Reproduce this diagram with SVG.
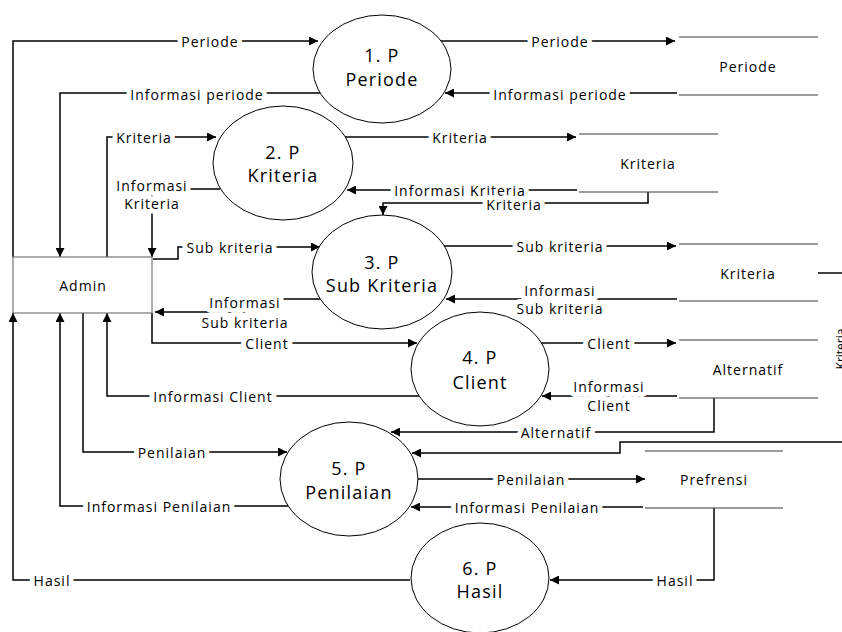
<svg xmlns="http://www.w3.org/2000/svg" width="842" height="632" viewBox="0 0 842 632">
<style>
.bg{fill:#fff}
.proc{fill:#fff;stroke:#000;stroke-width:1}
.pt{font-family:"Open Sans","Liberation Sans",sans-serif;font-size:18px;letter-spacing:1.2px;text-anchor:middle;dominant-baseline:central;fill:#000}
.st{stroke:#3a3a3a;stroke-width:1.2;fill:none}
.stt{font-family:"Open Sans","Liberation Sans",sans-serif;font-size:14px;letter-spacing:1px;text-anchor:middle;dominant-baseline:central;fill:#000}
.ent{fill:#fff;stroke:#777;stroke-width:1.2}
.c{fill:none;stroke:#000;stroke-width:1.5}
.ca{fill:none;stroke:#000;stroke-width:1.5;marker-end:url(#arr)}
.lb{font-family:"Open Sans","Liberation Sans",sans-serif;font-size:14px;letter-spacing:1px;text-anchor:middle;dominant-baseline:central;fill:#000;stroke:#fff;stroke-width:10px;stroke-linejoin:round;paint-order:stroke}
</style>
<defs>
<marker id="arr" viewBox="0 0 10 10" refX="10" refY="5" markerWidth="10" markerHeight="9" markerUnits="userSpaceOnUse" orient="auto">
<path d="M0,0 L10,5 L0,10 z" fill="#000"/>
</marker>
</defs>
<rect class="bg" x="0" y="0" width="842" height="632"/>

<g id="connectors">
<path class="ca" d="M13,257 V41 H318"/>
<path class="ca" d="M322,93 H60 V257"/>
<path class="ca" d="M107,257 V137 H216"/>
<path class="ca" d="M220,189 H152 V257"/>
<path class="ca" d="M648,192 V203 H383 V215"/>
<path class="ca" d="M345,137 H576"/>
<path class="ca" d="M577,190 H347"/>
<path class="ca" d="M441,41 H675"/>
<path class="ca" d="M677,93 H445"/>
<path class="ca" d="M153,259 H178 V247 H320"/>
<path class="ca" d="M320,299 H245 V312 H155"/>
<path class="ca" d="M152,313 V343 H417"/>
<path class="ca" d="M419,396 H107 V313"/>
<path class="ca" d="M541,343 H676"/>
<path class="ca" d="M677,396 H542"/>
<path class="ca" d="M444,246 H676"/>
<path class="ca" d="M677,299 H446"/>
<path class="ca" d="M714,398 V432 H391"/>
<path class="ca" d="M842,442 H620 V453 H412"/>
<path class="ca" d="M83,313 V452 H287"/>
<path class="ca" d="M288,506 H60 V313"/>
<path class="ca" d="M418,479 H645"/>
<path class="ca" d="M643,507 H411"/>
<path class="ca" d="M714,508 V580 H550"/>
<path class="ca" d="M410,580 H13 V313"/>
<line class="c" x1="818" y1="273" x2="842" y2="273"/>

<text class="lb" x="210" y="41">Periode</text>
<text class="lb" x="197" y="94">Informasi periode</text>
<text class="lb" x="144" y="137">Kriteria</text>
<text class="lb" x="152" y="185">Informasi</text>
<text class="lb" x="152" y="203">Kriteria</text>
<text class="lb" x="460" y="137">Kriteria</text>
<text class="lb" x="460" y="190">Informasi Kriteria</text>
<text class="lb" x="514" y="204">Kriteria</text>
<text class="lb" x="560" y="41">Periode</text>
<text class="lb" x="560" y="94">Informasi periode</text>
<text class="lb" x="230" y="247">Sub kriteria</text>
<text class="lb" x="245" y="302">Informasi</text>
<text class="lb" x="245" y="322">Sub kriteria</text>
<text class="lb" x="267" y="343">Client</text>
<text class="lb" x="213" y="396">Informasi Client</text>
<text class="lb" x="609" y="343">Client</text>
<text class="lb" x="609" y="386">Informasi</text>
<text class="lb" x="609" y="405">Client</text>
<text class="lb" x="560" y="246">Sub kriteria</text>
<text class="lb" x="560" y="290">Informasi</text>
<text class="lb" x="560" y="308">Sub kriteria</text>
<text class="lb" x="556" y="432">Alternatif</text>
<text class="lb" x="172" y="452">Penilaian</text>
<text class="lb" x="159" y="506">Informasi Penilaian</text>
<text class="lb" x="531" y="479">Penilaian</text>
<text class="lb" x="527" y="507">Informasi Penilaian</text>
<text class="lb" x="675" y="580">Hasil</text>
<text class="lb" x="52" y="580">Hasil</text>
</g>

<g id="admin">
<rect class="ent" x="13" y="257" width="139" height="56"/>
<text class="stt" x="83" y="285">Admin</text>
</g>

<g id="p1">
<ellipse class="proc" cx="382" cy="69" rx="69" ry="54"/>
<text class="pt" x="382" y="55">1. P</text>
<text class="pt" x="382" y="79">Periode</text>
</g>
<g id="p2">
<ellipse class="proc" cx="283" cy="163" rx="70" ry="57"/>
<text class="pt" x="283" y="152">2. P</text>
<text class="pt" x="283" y="175">Kriteria</text>
</g>
<g id="p3">
<ellipse class="proc" cx="382" cy="272" rx="70" ry="57"/>
<text class="pt" x="382" y="262">3. P</text>
<text class="pt" x="382" y="285">Sub Kriteria</text>
</g>
<g id="p4">
<ellipse class="proc" cx="480" cy="369" rx="69" ry="57"/>
<text class="pt" x="480" y="357">4. P</text>
<text class="pt" x="480" y="382">Client</text>
</g>
<g id="p5">
<ellipse class="proc" cx="349" cy="479" rx="69" ry="57"/>
<text class="pt" x="349" y="468">5. P</text>
<text class="pt" x="349" y="492">Penilaian</text>
</g>
<g id="p6">
<ellipse class="proc" cx="480" cy="578" rx="69" ry="55"/>
<text class="pt" x="480" y="568">6. P</text>
<text class="pt" x="480" y="591">Hasil</text>
</g>

<g id="ds-periode">
<line class="st" x1="679" y1="37" x2="818" y2="37"/>
<line class="st" x1="679" y1="95" x2="818" y2="95"/>
<text class="stt" x="748" y="66">Periode</text>
</g>
<g id="ds-kriteria1">
<line class="st" x1="579" y1="134" x2="718" y2="134"/>
<line class="st" x1="579" y1="192" x2="718" y2="192"/>
<text class="stt" x="648" y="163">Kriteria</text>
</g>
<g id="ds-kriteria2">
<line class="st" x1="679" y1="244" x2="818" y2="244"/>
<line class="st" x1="679" y1="301" x2="818" y2="301"/>
<text class="stt" x="748" y="273">Kriteria</text>
</g>
<g id="ds-alternatif">
<line class="st" x1="679" y1="340" x2="818" y2="340"/>
<line class="st" x1="679" y1="398" x2="818" y2="398"/>
<text class="stt" x="748" y="369">Alternatif</text>
</g>
<g id="ds-prefrensi">
<line class="st" x1="645" y1="451" x2="783" y2="451"/>
<line class="st" x1="645" y1="508" x2="783" y2="508"/>
<text class="stt" x="714" y="479">Prefrensi</text>
</g>
<g id="ds-kriteria3">
<text x="845" y="349" transform="rotate(-90 845 349)" font-family="Open Sans, Liberation Sans, sans-serif" font-size="12" text-anchor="middle" fill="#000">Kriteria</text>
</g>
</svg>
